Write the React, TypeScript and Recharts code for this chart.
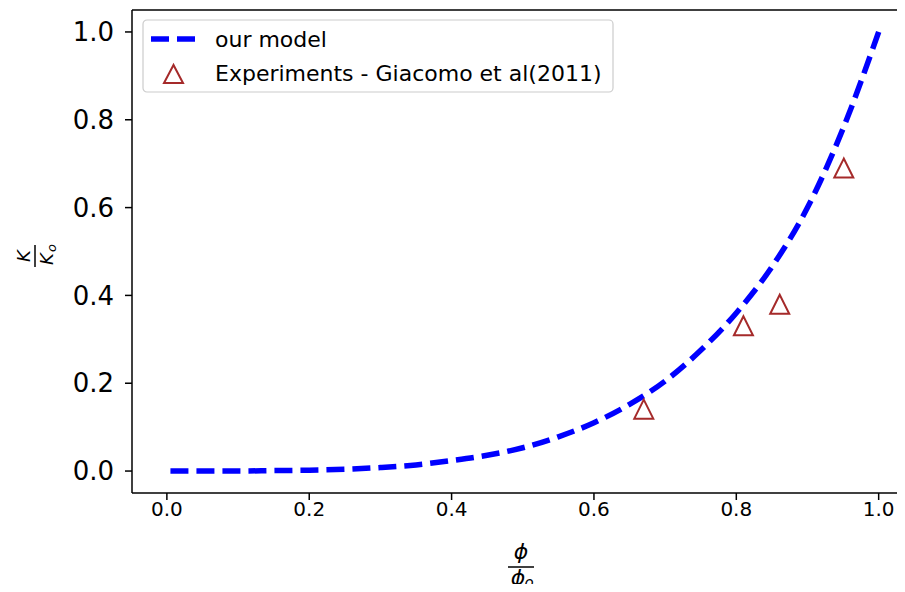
import React from "react"
import { ComposedChart, Line, Scatter, XAxis, YAxis, ReferenceLine } from "recharts"

// model curve
const phiRatio = [0.005, 0.05, 0.1, 0.15, 0.2, 0.25, 0.3, 0.35, 0.4, 0.45, 0.5, 0.55, 0.6, 0.65, 0.7, 0.75, 0.8, 0.85, 0.9, 0.95, 1.0]
const kRatio = [0, 0, 0, 0.001, 0.002, 0.004, 0.008, 0.014, 0.024, 0.036, 0.053, 0.078, 0.11, 0.152, 0.205, 0.275, 0.36, 0.465, 0.6, 0.78, 1.0]

// experiments - Giacomo et al (2011)
const expPhi = [0.67, 0.81, 0.861, 0.951]
const expK = [0.141, 0.331, 0.38, 0.69]

const xTicks = [0, 0.2, 0.4, 0.6, 0.8, 1.0]
const yTicks = [0, 0.2, 0.4, 0.6, 0.8, 1.0]

const curve = phiRatio.map((x, i) => ({ x, y: kRatio[i] }))
const experiments = expPhi.map((x, i) => ({ x, y: expK[i] }))

const FONT = "'DejaVu Sans', sans-serif"
const BROWN = "#a52a2a"

function Triangle(props: any) {
  const { cx, cy } = props
  if (cx == null || cy == null) return null
  const h = 9.5
  return (
    <polygon
      points={`${cx},${cy - h} ${cx - h},${cy + h} ${cx + h},${cy + h}`}
      fill="none"
      stroke={BROWN}
      strokeWidth={2}
    />
  )
}

function XLabel() {
  return (
    <g fontFamily={FONT} fontStyle="italic" fill="#000">
      <text x={521} y={559} fontSize={22} textAnchor="middle">ϕ</text>
      <line x1={508} x2={534} y1={567} y2={567} stroke="#000" strokeWidth={1.5} />
      <text x={518} y={585} fontSize={22} textAnchor="middle">ϕ</text>
      <text x={529} y={588} fontSize={15} textAnchor="middle">o</text>
    </g>
  )
}

function YLabel() {
  return (
    <g transform="rotate(-90, 35, 256)" fontFamily={FONT} fontStyle="italic" fill="#000">
      <text x={35} y={251} fontSize={18} textAnchor="middle">K</text>
      <line x1={24} x2={46} y1={256} y2={256} stroke="#000" strokeWidth={1.5} />
      <text x={32} y={274} fontSize={18} textAnchor="middle">K</text>
      <text x={43} y={277} fontSize={13} textAnchor="middle">o</text>
    </g>
  )
}

function LegendBox() {
  return (
    <svg width={472} height={74} style={{ position: "absolute", left: 142, top: 19 }}>
      <rect x={1} y={1} width={470} height={72} rx={4} fill="#fff" fillOpacity={0.8} stroke="#cccccc" strokeWidth={1.2} />
      <line x1={9} x2={54} y1={20} y2={20} stroke="#0000ff" strokeWidth={5.5} strokeDasharray="18 8" />
      <text x={73} y={28} fontSize={22} fontFamily={FONT} fill="#000">our model</text>
      <polygon points="31.5,46 22,64 41,64" fill="none" stroke={BROWN} strokeWidth={2} />
      <text x={73} y={62} fontSize={22} fontFamily={FONT} fill="#000">Experiments - Giacomo et al(2011)</text>
    </svg>
  )
}

export default function App() {
  return (
    <div style={{ margin: -8, width: 905, height: 592, background: "#fff", overflow: "hidden", position: "relative" }}>
      <ComposedChart width={905} height={592} margin={{ top: 10, right: 0, bottom: 0, left: 0 }}>
        <XAxis
          type="number"
          dataKey="x"
          domain={[-0.049, 1.037]}
          allowDataOverflow
          ticks={xTicks}
          tickFormatter={(v: number) => v.toFixed(1)}
          tick={{ fontSize: 20, fill: "#000", fontFamily: FONT }}
          tickSize={7}
          tickLine={{ stroke: "#000", strokeWidth: 1.5 }}
          axisLine={{ stroke: "#000", strokeWidth: 1.5 }}
          height={99}
          label={<XLabel />}
        />
        <YAxis
          type="number"
          dataKey="y"
          domain={[-0.05, 1.05]}
          allowDataOverflow
          ticks={yTicks}
          tickFormatter={(v: number) => v.toFixed(1)}
          tick={{ fontSize: 26, fill: "#000", fontFamily: FONT, dx: -9 }}
          tickSize={7}
          tickLine={{ stroke: "#000", strokeWidth: 1.5 }}
          axisLine={{ stroke: "#000", strokeWidth: 1.5 }}
          width={132}
          label={<YLabel />}
        />
        <ReferenceLine y={1.05} stroke="#000" strokeWidth={1.5} ifOverflow="visible" />
        <Line
          data={curve}
          dataKey="y"
          type="monotone"
          stroke="#0000ff"
          strokeWidth={5.5}
          strokeDasharray="18 8"
          dot={false}
          activeDot={false}
          isAnimationActive={false}
        />
        <Scatter data={experiments} dataKey="y" shape={<Triangle />} isAnimationActive={false} />
      </ComposedChart>
      <LegendBox />
    </div>
  )
}
